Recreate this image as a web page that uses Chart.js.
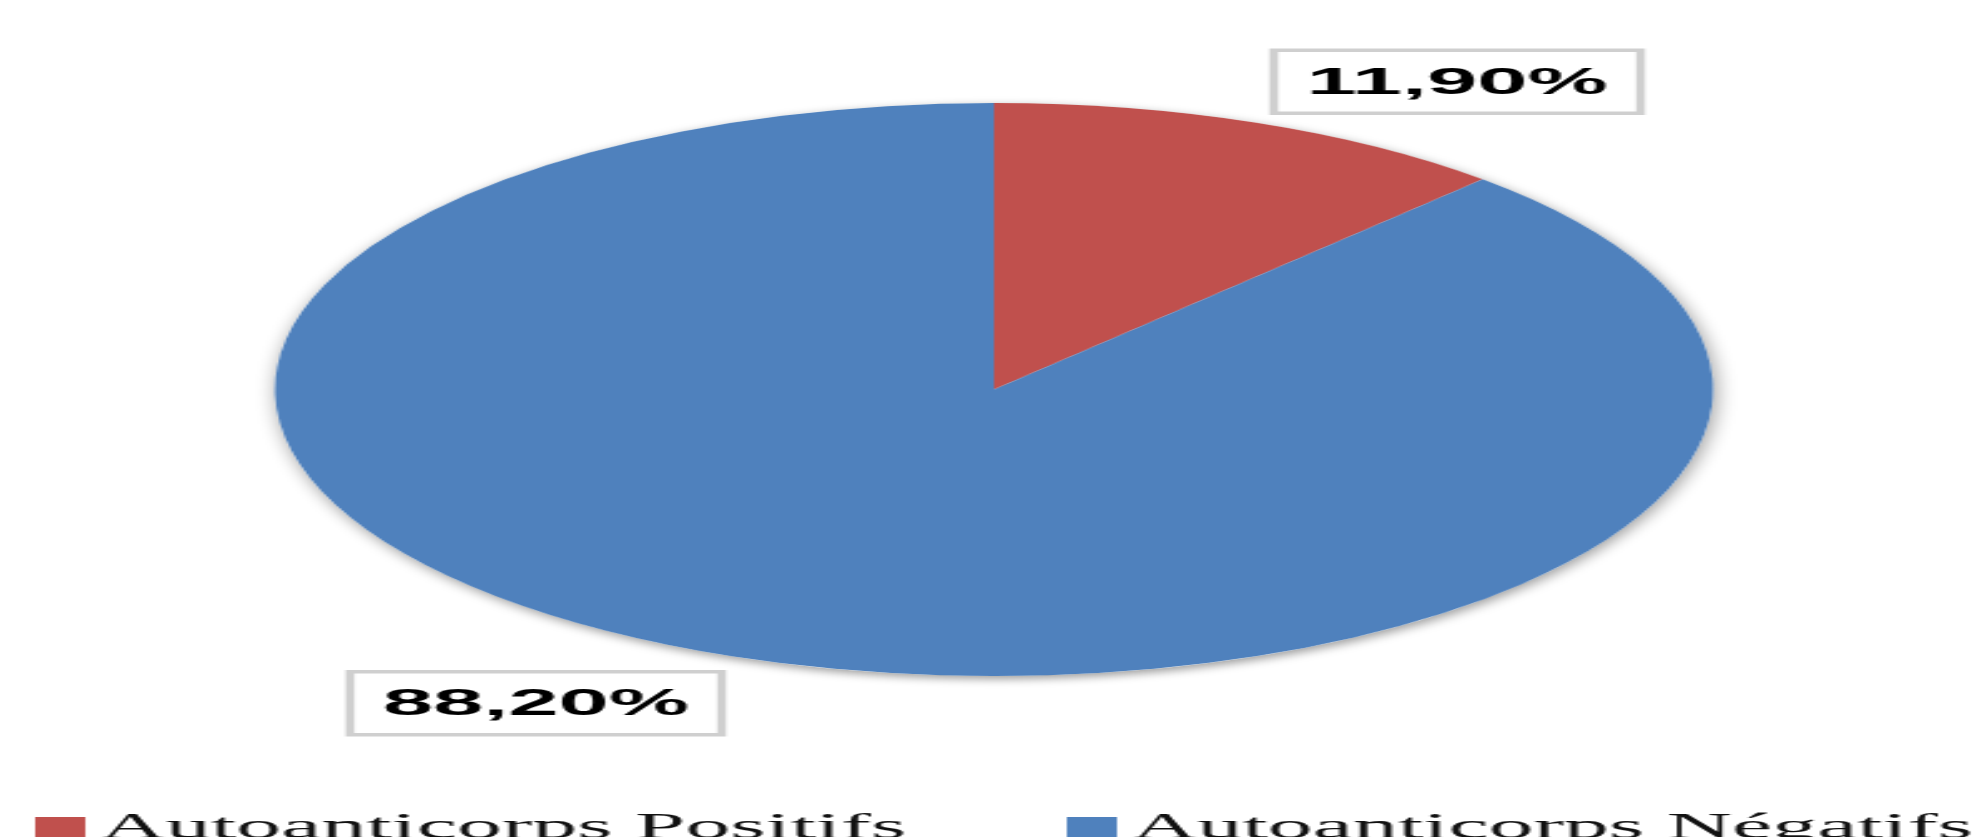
<!DOCTYPE html>
<html>
<head>
<meta charset="utf-8">
<script src="https://cdn.jsdelivr.net/npm/chart.js@4"></script>
<style>
    html, body { margin: 0; padding: 0; background: #fff; overflow: hidden; }
    #wrap { width: 790px; height: 837px; transform: scale(2.51, 1); transform-origin: 0 0; }
</style>
</head>
<body>
<div id="wrap"><canvas id="chart" width="790" height="837"></canvas></div>
<script>
const labels = ["Autoanticorps Positifs", "Autoanticorps Négatifs"];
const values = [11.9, 88.2];
const colors = ["#C0504D", "#4F81BD"];

// where the value boxes sit, relative to the slice edge
const labelOffsets = [[80, -41], [-78, 47]];
const legendX = [14, 425];

const fmt = v => v.toFixed(2).replace(".", ",") + "%";

// soft shadow under the whole pie
const pieShadow = {
    id: "pieShadow",
    beforeDatasetsDraw(chart) {
        const arc = chart.getDatasetMeta(0).data[0];
        if (!arc) return;
        const ctx = chart.ctx;
        ctx.save();
        ctx.shadowColor = "rgba(0,0,0,0.4)";
        ctx.shadowBlur = 9;
        ctx.shadowOffsetX = 1;
        ctx.shadowOffsetY = 3;
        ctx.fillStyle = "#fff";
        ctx.beginPath();
        ctx.arc(arc.x, arc.y, arc.outerRadius, 0, Math.PI * 2);
        ctx.fill();
        ctx.restore();
    }
};

// value boxes
const valueLabels = {
    id: "valueLabels",
    afterDatasetsDraw(chart) {
        const ctx = chart.ctx;
        const meta = chart.getDatasetMeta(0);
        ctx.save();
        ctx.font = "bold 36px 'Liberation Sans', Arial, sans-serif";
        ctx.textAlign = "center";
        ctx.textBaseline = "middle";
        meta.data.forEach((arc, i) => {
            const mid = (arc.startAngle + arc.endAngle) / 2;
            const x = arc.x + Math.cos(mid) * arc.outerRadius + labelOffsets[i][0];
            const y = arc.y + Math.sin(mid) * arc.outerRadius + labelOffsets[i][1];
            const text = fmt(values[i]);
            const w = ctx.measureText(text).width + 26;
            const h = 63;
            ctx.fillStyle = "#fff";
            ctx.fillRect(x - w / 2, y - h / 2, w, h);
            ctx.strokeStyle = "#CFCFCF";
            ctx.lineWidth = 3.5;
            ctx.strokeRect(x - w / 2, y - h / 2, w, h);
            ctx.fillStyle = "#000";
            ctx.fillText(text, x, y + 2);
        });
        ctx.restore();
    }
};

// legend along the bottom edge (partly cut off like the original)
const bottomLegend = {
    id: "bottomLegend",
    afterDraw(chart) {
        const ctx = chart.ctx;
        ctx.save();
        ctx.font = "36px 'Liberation Serif', 'Times New Roman', serif";
        ctx.textBaseline = "alphabetic";
        chart.data.labels.forEach((lab, i) => {
            const x = legendX[i];
            ctx.fillStyle = chart.data.datasets[0].backgroundColor[i];
            ctx.fillRect(x, 817, 20, 22);
            ctx.fillStyle = "#111";
            ctx.fillText(lab, x + 26, 838);
        });
        ctx.restore();
    }
};

new Chart(document.querySelector("#chart").getContext("2d"), {
    type: "pie",
    data: {
        labels: labels,
        datasets: [
            {
                data: values,
                backgroundColor: colors,
                borderWidth: 0,
                hoverOffset: 0
            }
        ]
    },
    options: {
        responsive: false,
        animation: false,
        layout: { padding: { top: 103, bottom: 161, left: 2, right: 0 } },
        plugins: {
            legend: { display: false },
            tooltip: { enabled: false }
        }
    },
    plugins: [pieShadow, valueLabels, bottomLegend]
});
</script>
</body>
</html>
